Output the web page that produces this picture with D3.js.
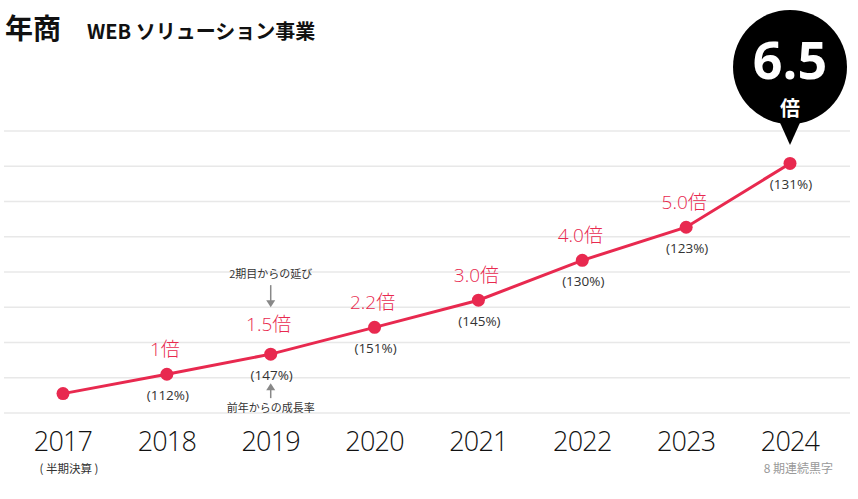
<!DOCTYPE html>
<html>
<head>
<meta charset="utf-8">
<script src="https://cdn.jsdelivr.net/npm/d3@7"></script>
<style>
  html, body { margin: 0; padding: 0; background: #fff; }
  body { font-family: "Noto Sans CJK JP", "Noto Sans", sans-serif; }
</style>
</head>
<body>
<div id="chart"></div>
<script>
// years on the x axis
const years = ['2017', '2018', '2019', '2020', '2021', '2022', '2023', '2024'];
// plotted height of each point (in gridline units)
const levels = [0.55, 1.10, 1.67, 2.43, 3.20, 4.33, 5.27, 7.08];
// multiple labels above points (vs. 2018)
const multipleLabels = [null, '1倍', '1.5倍', '2.2倍', '3.0倍', '4.0倍', '5.0倍', null];
// growth rate vs. previous year
const growthLabels = [null, '(112%)', '(147%)', '(151%)', '(145%)', '(130%)', '(123%)', '(131%)'];
const gridTicks = [0, 1, 2, 3, 4, 5, 6, 7, 8];

const width = 858, height = 499;
const red = '#e8294f';
const latin = '"Open Sans", "Noto Sans CJK JP", sans-serif';

const svg = d3.select('#chart').append('svg')
  .attr('width', width)
  .attr('height', height);

const x = d3.scalePoint().domain(years).range([63, 790]);
const y = d3.scaleLinear().domain([0, 8]).range([413, 131]);

// gridlines
svg.append('g')
  .selectAll('line')
  .data(gridTicks)
  .join('line')
  .attr('x1', 4)
  .attr('x2', 850)
  .attr('y1', d => y(d))
  .attr('y2', d => y(d))
  .attr('stroke', '#e8e8e8')
  .attr('stroke-width', 1.5);

// title
svg.append('text')
  .attr('x', 5).attr('y', 39)
  .attr('font-size', 28).attr('font-weight', 700)
  .attr('fill', '#111')
  .text('年商');
svg.append('text')
  .attr('x', 87).attr('y', 39)
  .attr('font-size', 20).attr('font-weight', 700)
  .attr('fill', '#111')
  .text('WEB ソリューション事業');

// line
const data = years.map((yr, i) => ({ year: yr, level: levels[i], mult: multipleLabels[i], growth: growthLabels[i] }));

svg.append('path')
  .datum(data)
  .attr('fill', 'none')
  .attr('stroke', red)
  .attr('stroke-width', 3)
  .attr('d', d3.line().x(d => x(d.year)).y(d => y(d.level)));

svg.append('g')
  .selectAll('circle')
  .data(data)
  .join('circle')
  .attr('cx', d => x(d.year))
  .attr('cy', d => y(d.level))
  .attr('r', 6.5)
  .attr('fill', red);

// multiple labels
svg.append('g')
  .selectAll('text')
  .data(data.filter(d => d.mult))
  .join('text')
  .attr('x', d => x(d.year) - 2)
  .attr('y', d => y(d.level) - (d.year === '2019' ? 23 : 18))
  .attr('text-anchor', 'middle')
  .attr('font-family', latin)
  .attr('font-weight', 300)
  .attr('font-size', 19)
  .attr('fill', red)
  .text(d => d.mult);

// growth labels
svg.append('g')
  .selectAll('text')
  .data(data.filter(d => d.growth))
  .join('text')
  .attr('x', d => x(d.year) + 1)
  .attr('y', d => y(d.level) + 26)
  .attr('text-anchor', 'middle')
  .attr('font-family', latin)
  .attr('font-size', 13.5)
  .attr('fill', '#333')
  .text(d => d.growth);

// annotations around 2019
const ax = x('2019');
const ay = y(levels[2]);
svg.append('text')
  .attr('x', ax).attr('y', ay - 76)
  .attr('text-anchor', 'middle')
  .attr('font-size', 11).attr('fill', '#333')
  .text('2期目からの延び');
svg.append('line')
  .attr('x1', ax).attr('x2', ax)
  .attr('y1', ay - 69).attr('y2', ay - 52)
  .attr('stroke', '#888').attr('stroke-width', 1.5);
svg.append('path')
  .attr('d', `M${ax - 4.5},${ay - 54} L${ax + 4.5},${ay - 54} L${ax},${ay - 47} Z`)
  .attr('fill', '#888');

svg.append('text')
  .attr('x', ax).attr('y', ay + 58)
  .attr('text-anchor', 'middle')
  .attr('font-size', 11).attr('fill', '#333')
  .text('前年からの成長率');
svg.append('line')
  .attr('x1', ax).attr('x2', ax)
  .attr('y1', ay + 44).attr('y2', ay + 33)
  .attr('stroke', '#888').attr('stroke-width', 1.5);
svg.append('path')
  .attr('d', `M${ax - 4.5},${ay + 36} L${ax + 4.5},${ay + 36} L${ax},${ay + 29} Z`)
  .attr('fill', '#888');

// year axis labels
svg.append('g')
  .selectAll('text')
  .data(years)
  .join('text')
  .attr('x', d => x(d))
  .attr('y', 451)
  .attr('text-anchor', 'middle')
  .attr('font-family', latin)
  .attr('font-weight', 300)
  .attr('font-size', 27)
  .attr('letter-spacing', -0.8)
  .attr('fill', '#111')
  .text(d => d);

svg.append('text')
  .attr('x', x('2017') + 6).attr('y', 473)
  .attr('text-anchor', 'middle')
  .attr('font-size', 11.5).attr('fill', '#333')
  .text('( 半期決算 )');

svg.append('text')
  .attr('x', 833).attr('y', 473)
  .attr('text-anchor', 'end')
  .attr('font-size', 12).attr('fill', '#999')
  .text('8 期連続黒字');

// balloon over the last point
const bx = x('2024'), by = 67, br = 57;
const tipY = 145;
svg.append('circle')
  .attr('cx', bx).attr('cy', by).attr('r', br)
  .attr('fill', '#000');
svg.append('path')
  .attr('d', `M${bx - 13},${by + br - 8} L${bx + 13},${by + br - 8} L${bx},${tipY} Z`)
  .attr('fill', '#000');
svg.append('text')
  .attr('x', bx).attr('y', 79)
  .attr('text-anchor', 'middle')
  .attr('font-family', latin)
  .attr('font-weight', 700)
  .attr('font-size', 52)
  .attr('fill', '#fff')
  .text('6.5');
svg.append('text')
  .attr('x', bx).attr('y', 116)
  .attr('text-anchor', 'middle')
  .attr('font-weight', 700)
  .attr('font-size', 20)
  .attr('fill', '#fff')
  .text('倍');
</script>
</body>
</html>
